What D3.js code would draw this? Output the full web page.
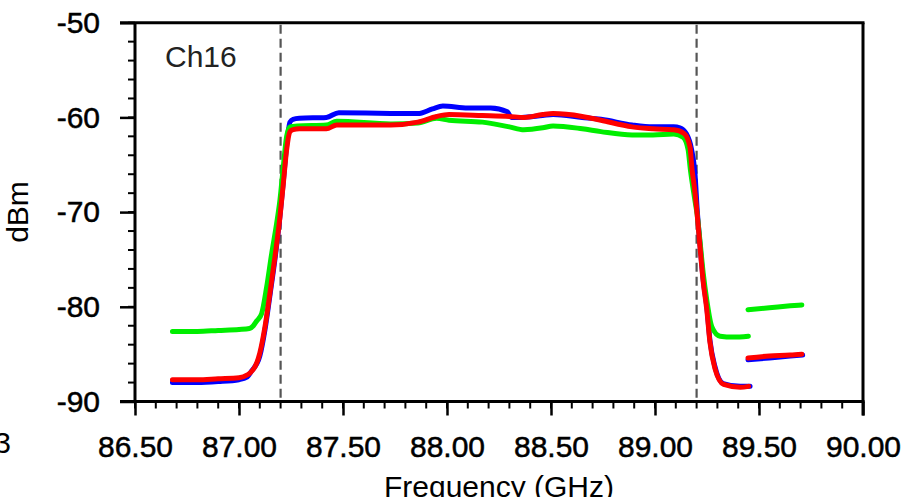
<!DOCTYPE html>
<html>
<head>
<meta charset="utf-8">
<script src="https://cdn.jsdelivr.net/npm/d3@7/dist/d3.min.js"></script>
<style>
  html, body { margin: 0; padding: 0; background: #fff; }
  svg { display: block; }
  text { font-family: "Liberation Sans", Arial, Helvetica, sans-serif; }
</style>
</head>
<body>
<svg id="chart" width="914" height="497"></svg>
<script>
// ---- data (frequency GHz, power dBm) ----
const blueMain = [[86.68,-88.0],[86.80,-88.0],[86.90,-87.9],[87.00,-87.7],[87.04,-87.4],[87.06,-86.8],[87.10,-85.2],[87.125,-82.4],[87.15,-78.6],[87.175,-74.6],[87.197,-70.4],[87.213,-66.8],[87.229,-63.0],[87.245,-60.5],[87.26,-60.2],[87.29,-60.1],[87.42,-60.0],[87.48,-59.5],[87.86,-59.6],[87.93,-59.1],[87.98,-58.8],[88.10,-59.0],[88.21,-59.0],[88.29,-59.4],[88.31,-60.0],[88.36,-60.0],[88.46,-59.8],[88.51,-59.7],[88.65,-60.0],[88.74,-60.2],[88.89,-60.8],[88.99,-61.0],[89.09,-61.0],[89.12,-61.1],[89.15,-61.7],[89.176,-63.4],[89.192,-65.9],[89.203,-69.8],[89.216,-73.3],[89.232,-77.2],[89.249,-80.0],[89.264,-83.5],[89.288,-86.3],[89.328,-88.1],[89.41,-88.4],[89.457,-88.4]];
const greenMain = [[86.68,-82.6],[86.80,-82.6],[86.90,-82.5],[87.00,-82.4],[87.05,-82.3],[87.069,-82.0],[87.085,-81.5],[87.109,-80.7],[87.133,-77.9],[87.157,-74.4],[87.181,-71.2],[87.197,-68.7],[87.213,-65.2],[87.229,-62.0],[87.245,-61.0],[87.28,-60.9],[87.42,-60.8],[87.47,-60.4],[87.73,-60.7],[87.86,-60.6],[87.95,-60.1],[88.01,-60.3],[88.17,-60.5],[88.30,-61.0],[88.37,-61.3],[88.46,-61.1],[88.51,-60.9],[88.65,-61.2],[88.74,-61.5],[88.89,-61.85],[88.99,-61.85],[89.09,-61.75],[89.135,-62.1],[89.159,-63.4],[89.17,-65.5],[89.19,-68.5],[89.203,-70.3],[89.216,-73.0],[89.232,-76.5],[89.249,-79.3],[89.273,-82.1],[89.313,-83.1],[89.375,-83.2],[89.449,-83.1]];
const redMain = [[86.68,-87.7],[86.80,-87.7],[86.90,-87.6],[87.00,-87.5],[87.04,-87.2],[87.053,-87.0],[87.10,-84.9],[87.125,-82.1],[87.149,-78.5],[87.173,-74.7],[87.197,-70.5],[87.213,-67.0],[87.229,-63.4],[87.245,-61.5],[87.26,-61.3],[87.29,-61.2],[87.42,-61.2],[87.47,-60.8],[87.73,-60.8],[87.86,-60.5],[87.95,-59.9],[88.01,-59.7],[88.17,-59.8],[88.30,-59.9],[88.37,-60.0],[88.46,-59.7],[88.51,-59.6],[88.65,-59.9],[88.74,-60.3],[88.89,-61.0],[88.99,-61.2],[89.09,-61.3],[89.14,-61.7],[89.168,-63.1],[89.178,-65.5],[89.19,-67.5],[89.203,-70.3],[89.216,-73.6],[89.232,-77.4],[89.249,-80.3],[89.264,-83.7],[89.288,-86.5],[89.33,-88.2],[89.41,-88.5],[89.45,-88.4]];
const blueTail = [[89.447,-85.6],[89.55,-85.4],[89.65,-85.2],[89.71,-85.1]];
const greenTail = [[89.447,-80.3],[89.55,-80.1],[89.65,-79.9],[89.706,-79.8]];
const redTail = [[89.447,-85.4],[89.55,-85.2],[89.65,-85.1],[89.706,-85.0]];
const markerLines = [87.2, 89.2];
const xTickValues = [86.5, 87.0, 87.5, 88.0, 88.5, 89.0, 89.5, 90.0];
const xTickLabels = ["86.50","87.00","87.50","88.00","88.50","89.00","89.50","90.00"];
const yTickValues = [-90, -80, -70, -60, -50];
const yTickLabels = ["-90","-80","-70","-60","-50"];
const channelLabel = "Ch16";

// ---- drawing ----
(function () {
const svg = d3.select("#chart");
const pL = 135, pR = 863, pT = 22.7, pB = 401.5;
const x = d3.scaleLinear().domain([86.5, 90]).range([pL, pR]);
const y = d3.scaleLinear().domain([-90, -50]).range([pB, pT]);

// minor ticks
const xMinor = d3.range(0, 36).map(i => +(86.5 + i * 0.1).toFixed(2));
const yMinor = d3.range(0, 21).map(i => -90 + i * 2);

svg.append("g").selectAll("line").data(xMinor).join("line")
  .attr("x1", d => x(d)).attr("x2", d => x(d))
  .attr("y1", pB).attr("y2", pB + 7)
  .attr("stroke", "#000").attr("stroke-width", 2);
svg.append("g").selectAll("line").data(yMinor).join("line")
  .attr("y1", d => y(d)).attr("y2", d => y(d))
  .attr("x1", pL - 7).attr("x2", pL)
  .attr("stroke", "#000").attr("stroke-width", 2);

// major ticks via axes
const xAxis = d3.axisBottom(x).tickValues(xTickValues)
  .tickFormat((d, i) => xTickLabels[i]).tickSize(14).tickSizeOuter(0).tickPadding(16);
const gx = svg.append("g").attr("transform", `translate(0,${pB})`).call(xAxis);
gx.select(".domain").remove();
gx.selectAll(".tick line").attr("stroke", "#000").attr("stroke-width", 2.5);
gx.selectAll(".tick text").attr("font-size", 30).attr("fill", "#000")
  .attr("stroke", "#000").attr("stroke-width", 0.5)
  .attr("font-family", "Liberation Sans, Arial, sans-serif").attr("dy", "0.85em");

const yAxis = d3.axisLeft(y).tickValues(yTickValues)
  .tickFormat((d, i) => yTickLabels[i]).tickSize(15).tickSizeOuter(0).tickPadding(20);
const gy = svg.append("g").attr("transform", `translate(${pL},0)`).call(yAxis);
gy.select(".domain").remove();
gy.selectAll(".tick line").attr("stroke", "#000").attr("stroke-width", 2.5);
gy.selectAll(".tick text").attr("font-size", 30).attr("fill", "#000")
  .attr("stroke", "#000").attr("stroke-width", 0.5)
  .attr("font-family", "Liberation Sans, Arial, sans-serif");

// frame
const frame = svg.append("g").attr("stroke", "#000").attr("stroke-width", 3).attr("fill", "none");
frame.append("line").attr("x1", pL).attr("x2", pL).attr("y1", pT).attr("y2", pB + 1.5);
frame.append("line").attr("x1", pL - 15).attr("x2", pR + 1.5).attr("y1", pB).attr("y2", pB);
frame.append("line").attr("x1", pL - 15).attr("x2", pR + 1.5).attr("y1", pT).attr("y2", pT);
frame.append("line").attr("x1", pR).attr("x2", pR).attr("y1", pT).attr("y2", pB + 14);

// dashed marker lines
svg.append("g").selectAll("line").data(markerLines).join("line")
  .attr("x1", d => x(d)).attr("x2", d => x(d))
  .attr("y1", pT + 2).attr("y2", pB - 1)
  .attr("stroke", "#555").attr("stroke-width", 2.2).attr("stroke-dasharray", "9,5");

// series
const line = d3.line().x(d => x(d[0])).y(d => y(d[1])).curve(d3.curveMonotoneX);
const series = [
  {data: blueMain, color: "#0000ff"},
  {data: blueTail, color: "#0000ff"},
  {data: greenMain, color: "#00ee00"},
  {data: greenTail, color: "#00ee00"},
  {data: redMain, color: "#ff0000"},
  {data: redTail, color: "#ff0000"}
];
svg.append("g").selectAll("path").data(series).join("path")
  .attr("d", d => line(d.data))
  .attr("fill", "none").attr("stroke", d => d.color)
  .attr("stroke-width", 5).attr("stroke-linejoin", "round").attr("stroke-linecap", "round");

// labels
svg.append("text").attr("x", 165).attr("y", 66.5).attr("font-size", 30).attr("fill", "#222")
  .text(channelLabel);
svg.append("text").attr("transform", "translate(28,212) rotate(-90)")
  .attr("text-anchor", "middle").attr("font-size", 30).attr("fill", "#000").text("dBm");
svg.append("text").attr("x", (pL + pR) / 2).attr("y", 496.5).attr("text-anchor", "middle")
  .attr("font-size", 30).attr("fill", "#000").text("Frequency (GHz)");
svg.append("text").attr("x", 11).attr("y", 453).attr("text-anchor", "end")
  .attr("font-size", 30).attr("fill", "#000").text("3");
})();
</script>
</body>
</html>
